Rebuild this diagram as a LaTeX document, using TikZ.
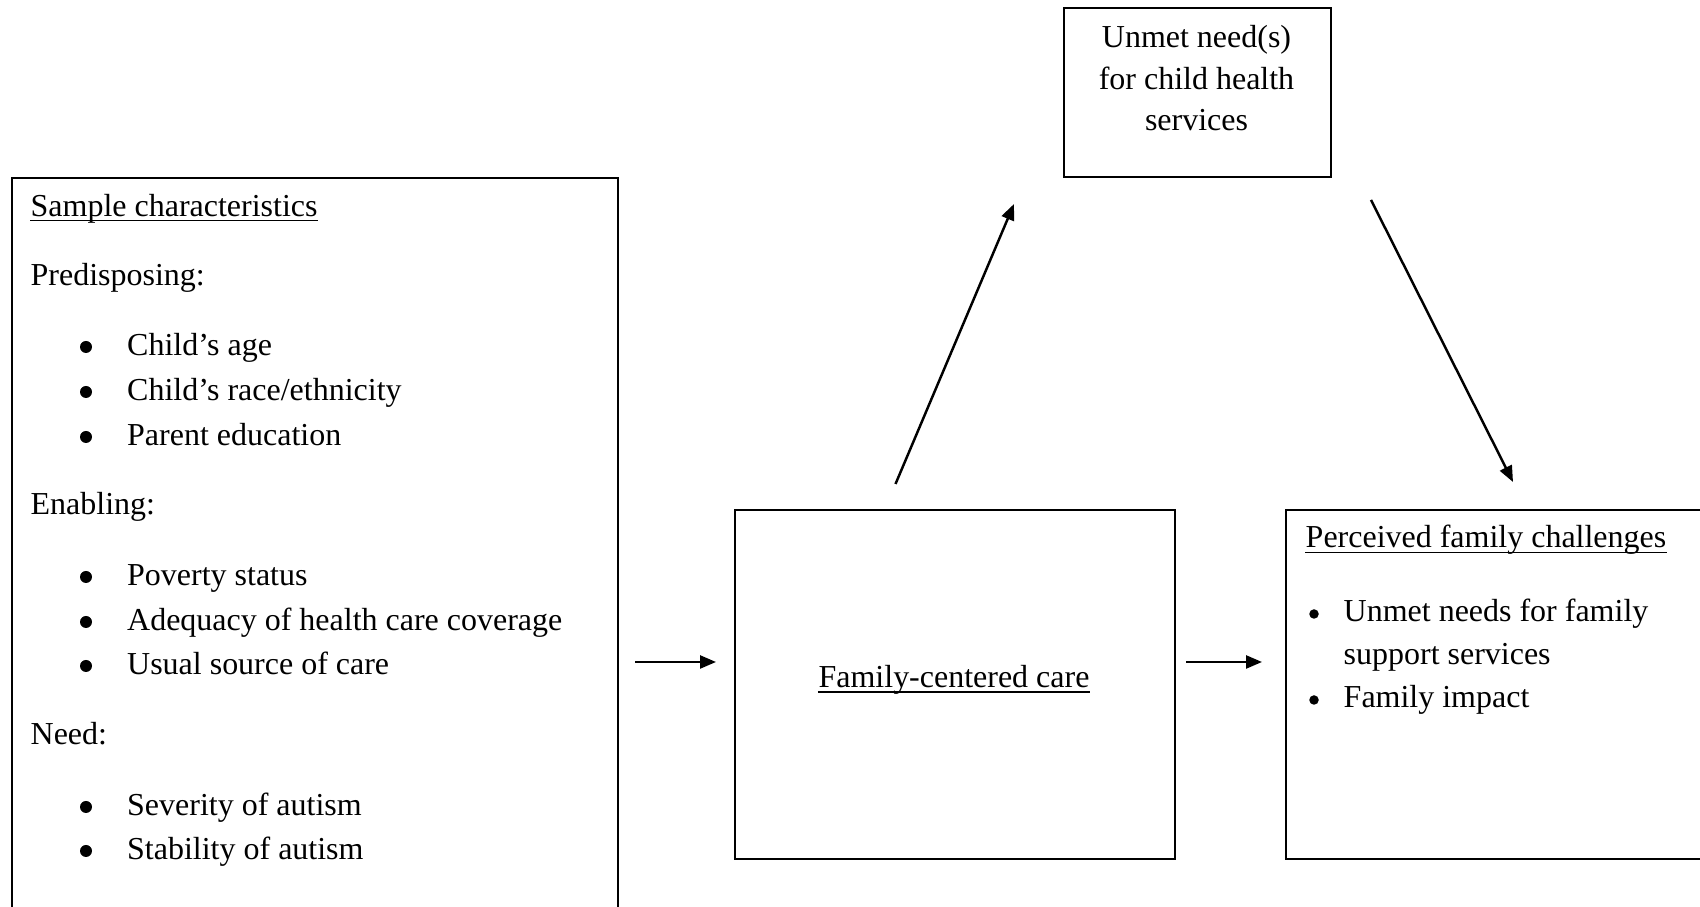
\documentclass[tikz,border=0pt]{standalone}
\usepackage{fontspec}
\setmainfont{Liberation Serif}
\usetikzlibrary{arrows.meta,positioning,calc}

\tikzset{
  box/.style={draw, line width=0.6pt, inner sep=0pt, anchor=north west},
  txt/.style={inner sep=0pt, anchor=base west, font=\fontsize{9.1}{12.8}\selectfont},
  ctxt/.style={txt, anchor=base},
  dot/.style={circle, fill, inner sep=0pt, minimum size=#1},
  dot/.default=0.12cm,
  flow/.style={-{Triangle[length=0.16cm, width=0.13cm]}, line width=0.7pt},
  uline/.style={line width=0.55pt},
}

\begin{document}
\begin{tikzpicture}
  \clip (0,0) rectangle (17,9.07);

  % Boxes
  \node[box, minimum width=6.06cm, minimum height=8cm] (sample) at (0.11,7.30) {};
  \node[box, minimum width=2.67cm, minimum height=1.69cm] (unmet) at (10.63,9.00) {};
  \node[box, minimum width=4.40cm, minimum height=3.49cm] (fcc) at (7.34,3.98) {};
  \node[box, minimum width=5cm, minimum height=3.49cm] (pfc) at (12.85,3.98) {};

  % Sample characteristics
  \node[txt] (samplehead) at (0.30,6.90) {Sample characteristics};
  \draw[uline] ([yshift=-0.035cm]samplehead.base west) -- ([yshift=-0.035cm]samplehead.base east);
  \foreach \y/\t [count=\i] in {6.21/Predisposing:, 3.92/Enabling:, 1.62/Need:}
    \node[txt] (group\i) at (0.30,\y) {\t};
  \foreach \y/\t [count=\i] in {5.51/{Child’s age}, 5.06/{Child’s race/ethnicity},
      4.61/{Parent education}, 3.21/{Poverty status},
      2.76/{Adequacy of health care coverage}, 2.32/{Usual source of care},
      0.91/{Severity of autism}, 0.47/{Stability of autism}} {
    \node[dot] (bul\i) at (0.86,\y+0.09) {};
    \node[txt] (item\i) at (1.265,\y) {\t};
  }

  % Unmet needs
  \foreach \y/\t [count=\i] in {8.59/{Unmet need(s)}, 8.175/{for child health}, 7.76/{services}}
    \node[ctxt] (unmet\i) at (11.965,\y) {\t};

  % Family-centered care
  \node[ctxt] (fcctext) at (9.54,2.19) {Family-centered care};
  \draw[uline] ([yshift=-0.04cm]fcctext.base west) -- ([yshift=-0.04cm]fcctext.base east);

  % Perceived family challenges
  \node[txt] (pfchead) at (13.05,3.59) {Perceived family challenges};
  \draw[uline] ([yshift=-0.045cm]pfchead.base west) -- ([yshift=-0.045cm]pfchead.base east);
  \node[dot=0.095cm] (pbul1) at (13.14,2.93) {};
  \node[txt] (pitem1) at (13.43,2.85) {Unmet needs for family};
  \node[txt] (pitem1b) at (13.43,2.42) {support services};
  \node[dot=0.095cm] (pbul2) at (13.14,2.07) {};
  \node[txt] (pitem2) at (13.43,1.99) {Family impact};

  % Arrows
  \coordinate (in1) at (6.35,2.45);
  \coordinate (out1) at (7.16,2.45);
  \coordinate (in2) at (11.86,2.45);
  \coordinate (out2) at (12.62,2.45);
  \coordinate (up1) at (8.955,4.23);
  \coordinate (up2) at (10.14,7.03);
  \coordinate (dn1) at (13.71,7.07);
  \coordinate (dn2) at (15.13,4.25);
  \draw[flow] (in1) -- (out1);
  \draw[flow] (in2) -- (out2);
  \draw[flow] (up1) -- (up2);
  \draw[flow] (dn1) -- (dn2);
\end{tikzpicture}
\end{document}
